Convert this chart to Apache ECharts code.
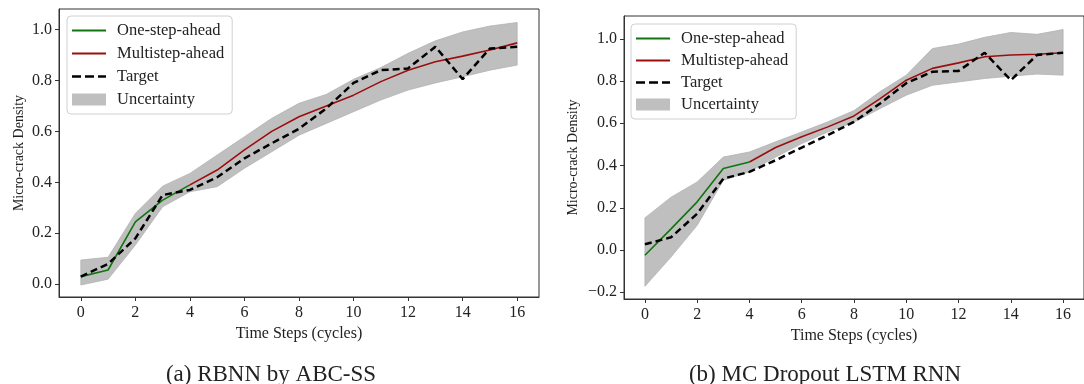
<!DOCTYPE html>
<html>
<head>
<meta charset="utf-8">
<script src="https://cdn.jsdelivr.net/npm/echarts@6/dist/echarts.min.js"></script>
<style>
  html, body { margin: 0; padding: 0; background: #fff; }
  #chart { width: 1084px; height: 384px; }
</style>
</head>
<body>
<div id="chart"></div>
<script>
// time steps shared by both panels
const steps = [0, 1, 2, 3, 4, 5, 6, 7, 8, 9, 10, 11, 12, 13, 14, 15, 16];
const xTicks = [0, 2, 4, 6, 8, 10, 12, 14, 16];
const yTicksA = [0, 0.2, 0.4, 0.6, 0.8, 1.0];
const yTicksB = [-0.2, 0, 0.2, 0.4, 0.6, 0.8, 1.0];

// (a) RBNN by ABC-SS
const oneStepA = [0.03, 0.056, 0.245, 0.33, 0.39];
const multiA = [null, null, null, null, 0.39, 0.448, 0.527, 0.6, 0.657, 0.699, 0.742, 0.795, 0.84, 0.873, 0.895, 0.919, 0.947];
const targetA = [0.03, 0.08, 0.18, 0.35, 0.37, 0.42, 0.494, 0.553, 0.61, 0.69, 0.79, 0.84, 0.847, 0.932, 0.805, 0.925, 0.932];
const upperA = [0.095, 0.106, 0.278, 0.385, 0.435, 0.507, 0.579, 0.651, 0.71, 0.745, 0.804, 0.85, 0.906, 0.955, 0.99, 1.013, 1.027];
const lowerA = [-0.003, 0.02, 0.154, 0.304, 0.363, 0.383, 0.455, 0.52, 0.585, 0.631, 0.677, 0.723, 0.762, 0.79, 0.814, 0.84, 0.86];

// (b) MC Dropout LSTM RNN
const oneStepB = [-0.025, 0.1, 0.228, 0.386, 0.417];
const multiB = [null, null, null, null, 0.417, 0.485, 0.536, 0.583, 0.635, 0.717, 0.804, 0.86, 0.886, 0.915, 0.923, 0.927, 0.934];
const targetB = [0.027, 0.06, 0.172, 0.338, 0.37, 0.425, 0.485, 0.544, 0.607, 0.694, 0.79, 0.844, 0.848, 0.934, 0.804, 0.923, 0.934];
const upperB = [0.152, 0.25, 0.322, 0.44, 0.464, 0.512, 0.559, 0.607, 0.66, 0.75, 0.828, 0.954, 0.975, 1.007, 1.03, 1.021, 1.044];
const lowerB = [-0.172, -0.033, 0.117, 0.33, 0.37, 0.44, 0.504, 0.559, 0.605, 0.67, 0.733, 0.78, 0.796, 0.812, 0.823, 0.833, 0.828];

const FONT = "'Liberation Serif', 'DejaVu Serif', serif";
const GREEN = "#107510";
const RED = "#9c0e0e";
const BAND = "#bfbfbf";

// legend glyphs (matplotlib-style handles)
const ICON_SOLID = "path://M0,0H34V1.8H0Z";
const ICON_DASH = "path://M0,0H9V2.6H0Z M13,0H22V2.6H13Z M26,0H34V2.6H26Z";

const pairs = (ys) => ys.map((y, i) => [steps[i], y]);

function xAxisFor(gridIndex) {
  return {
    type: "value", gridIndex, min: -0.8, max: 16.8,
    name: "Time Steps (cycles)", nameLocation: "middle", nameGap: 22,
    nameTextStyle: { fontFamily: FONT, fontSize: 16, color: "#222" },
    axisLine: { show: true, onZero: false, lineStyle: { color: "#333", width: 1 } },
    axisTick: { show: true, length: 4, customValues: xTicks, lineStyle: { color: "#333" } },
    axisLabel: { customValues: xTicks, fontFamily: FONT, fontSize: 16, color: "#222", margin: 8 },
    splitLine: { show: false },
  };
}

function yAxisFor(gridIndex, min, max, ticks, gap) {
  return {
    type: "value", gridIndex, min, max,
    name: "Micro-crack Density", nameLocation: "middle", nameGap: gap,
    nameTextStyle: { fontFamily: FONT, fontSize: 14, color: "#222" },
    axisLine: { show: true, onZero: false, lineStyle: { color: "#333", width: 1 } },
    axisTick: { show: true, length: 4, customValues: ticks, lineStyle: { color: "#333" } },
    axisLabel: {
      customValues: ticks, fontFamily: FONT, fontSize: 16, color: "#222", margin: 7,
      formatter: (v) => (v < 0 ? "\u2212" : "") + Math.abs(v).toFixed(1),
    },
    splitLine: { show: false },
  };
}

// uncertainty band drawn as one polygon through the axis scales
function bandSeries(idx, upper, lower) {
  return {
    name: "Uncertainty", type: "custom", xAxisIndex: idx, yAxisIndex: idx,
    data: steps.map((s, i) => [s, lower[i], upper[i]]),
    itemStyle: { color: BAND },
    z: 1, silent: true,
    renderItem: (params, api) => {
      if (params.dataIndex !== 0) return null;
      const top = steps.map((s, i) => api.coord([s, upper[i]]));
      const bottom = steps.map((s, i) => api.coord([s, lower[i]])).reverse();
      return {
        type: "polygon",
        shape: { points: top.concat(bottom) },
        style: { fill: BAND, stroke: "#b3b3b3", lineWidth: 0.8 },
      };
    },
  };
}

function panelSeries(idx, oneStep, multi, target, upper, lower) {
  return [
    bandSeries(idx, upper, lower),
    {
      name: "One-step-ahead", type: "line", xAxisIndex: idx, yAxisIndex: idx,
      data: pairs(oneStep), symbol: "none", showSymbol: false, itemStyle: { color: GREEN },
      lineStyle: { color: GREEN, width: 1.6 }, z: 3,
    },
    {
      name: "Multistep-ahead", type: "line", xAxisIndex: idx, yAxisIndex: idx,
      data: pairs(multi), symbol: "none", showSymbol: false, itemStyle: { color: RED },
      lineStyle: { color: RED, width: 1.6 }, z: 3,
    },
    {
      name: "Target", type: "line", xAxisIndex: idx, yAxisIndex: idx,
      data: pairs(target), symbol: "none", showSymbol: false, itemStyle: { color: "#000" },
      lineStyle: { color: "#000", width: 2.5, type: [7, 4] }, z: 4,
    },
  ];
}

function legendAt(left, top, gap) {
  return {
    orient: "vertical", left, top,
    data: [
      { name: "One-step-ahead", icon: ICON_SOLID },
      { name: "Multistep-ahead", icon: ICON_SOLID },
      { name: "Target", icon: ICON_DASH },
      { name: "Uncertainty", icon: "rect" },
    ],
    itemWidth: 34, itemHeight: 12, itemGap: gap,
    padding: [6, 8, 6, 5],
    backgroundColor: "#fff", borderColor: "#d0d0d0", borderWidth: 1, borderRadius: 4,
    textStyle: { fontFamily: FONT, fontSize: 16.5, color: "#222", lineHeight: 16, padding: [0, 0, 0, 6] },
    selectedMode: false,
  };
}

const chart = echarts.init(document.getElementById("chart"), null, { renderer: "canvas" });

chart.setOption({
  animation: false,
  backgroundColor: "#fff",
  grid: [
    { left: 59, top: 9, right: 545, bottom: 87, show: true, borderColor: "#333", borderWidth: 1, containLabel: false },
    { left: 624, top: 16, right: -9, bottom: 85, show: true, borderColor: "#333", borderWidth: 1, containLabel: false },
  ],
  xAxis: [xAxisFor(0), xAxisFor(1)],
  yAxis: [
    yAxisFor(0, -0.05, 1.08, yTicksA, 33),
    yAxisFor(1, -0.232, 1.108, yTicksB, 44),
  ],
  legend: [legendAt(67, 16, 6), legendAt(631, 24, 5)],
  title: [
    { text: "(a) RBNN by ABC-SS", left: 271, top: 363, textAlign: "center", padding: 0,
      textStyle: { fontFamily: FONT, fontSize: 23, fontWeight: "normal", color: "#222" } },
    { text: "(b) MC Dropout LSTM RNN", left: 825, top: 363, textAlign: "center", padding: 0,
      textStyle: { fontFamily: FONT, fontSize: 23, fontWeight: "normal", color: "#222" } },
  ],
  series: [
    ...panelSeries(0, oneStepA, multiA, targetA, upperA, lowerA),
    ...panelSeries(1, oneStepB, multiB, targetB, upperB, lowerB),
  ],
});
</script>
</body>
</html>
